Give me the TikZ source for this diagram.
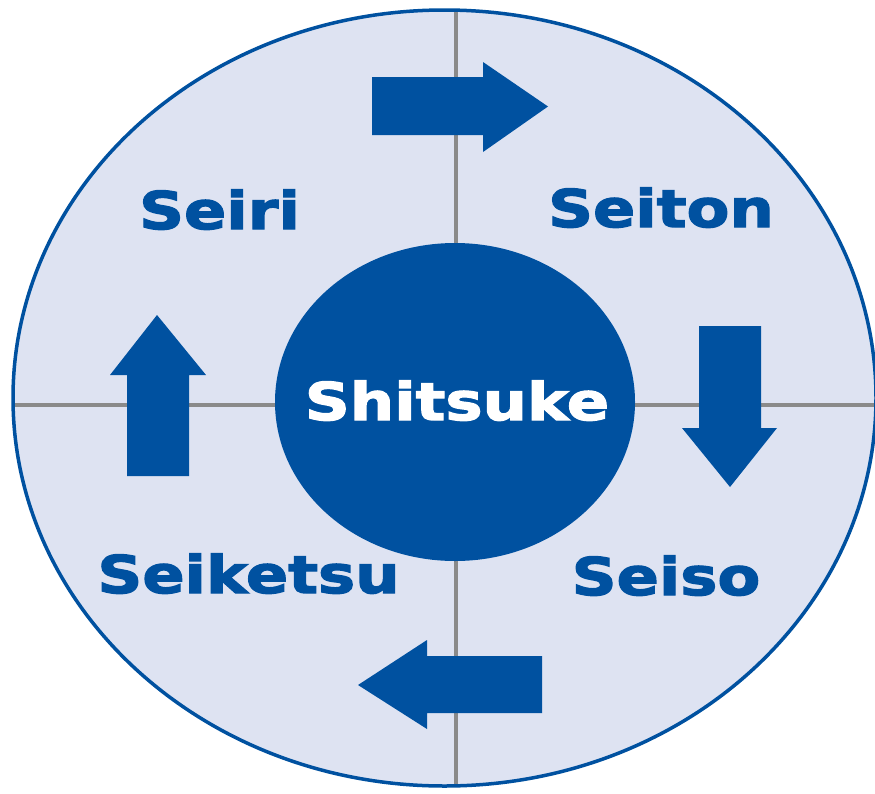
\documentclass[tikz,border=0pt]{standalone}
\usepackage{fontspec}
\usepackage{tikz}
\newfontfamily\stagefont{DejaVu Sans}[FakeStretch=1.2,FakeBold=2.5]
\definecolor{ringBlue}{HTML}{0051A0}
\definecolor{ringFill}{HTML}{DEE3F2}
\definecolor{crossGrey}{HTML}{8A8A8A}

\begin{document}
\begin{tikzpicture}[
  x=1pt, y=-1pt,
  stage/.style={text=ringBlue,anchor=base,inner sep=0pt,font=\stagefont\bfseries\fontsize{52}{54}\selectfont},
  core/.style={text=white,anchor=base,inner sep=0pt,font=\stagefont\bfseries\fontsize{52}{54}\selectfont},
  blockarrow/.style={fill=ringBlue,draw=none}
]
  \useasboundingbox (0,0) rectangle (875,793);

  % --- outer disc with the grey cross ---
  \fill[ringFill] (444.5,398) ellipse [x radius=431.5, y radius=388];
  \begin{scope}
    \clip (444.5,398) ellipse [x radius=431.5, y radius=388];
    \draw[crossGrey,line width=3.5pt] (456,0) -- (456,793);
    \draw[crossGrey,line width=3.5pt] (0,405) -- (875,405);
  \end{scope}
  \draw[ringBlue,line width=3.5pt] (444.5,398) ellipse [x radius=431.5, y radius=388];

  % --- centre ---
  \fill[ringBlue] (455,402) ellipse [x radius=180, y radius=159];
  \node[core] (shitsuke) at (457,420) {Shitsuke};

  % --- the four steps ---
  \node[stage] (seiri)    at (219.5,229) {Seiri};
  \node[stage] (seiton)   at (661,227)   {Seiton};
  \node[stage] (seiso)    at (666,595)   {Seiso};
  \node[stage] (seiketsu) at (248.5,593) {Seiketsu};

  % --- block arrows, clockwise ---
  \fill[blockarrow] (372,77) -- (483,77) -- (483,62) -- (548,106.5) -- (483,152) -- (483,135) -- (372,135) -- cycle;
  \fill[blockarrow] (699,326) -- (761,326) -- (761,428) -- (777,428) -- (730,487) -- (682,428) -- (699,428) -- cycle;
  \fill[blockarrow] (542,656) -- (542,713) -- (427,713) -- (427,729) -- (358,685) -- (427,640) -- (427,656) -- cycle;
  \fill[blockarrow] (127,476) -- (127,375) -- (110,375) -- (157,315) -- (206,375) -- (189,375) -- (189,476) -- cycle;
\end{tikzpicture}
\end{document}
